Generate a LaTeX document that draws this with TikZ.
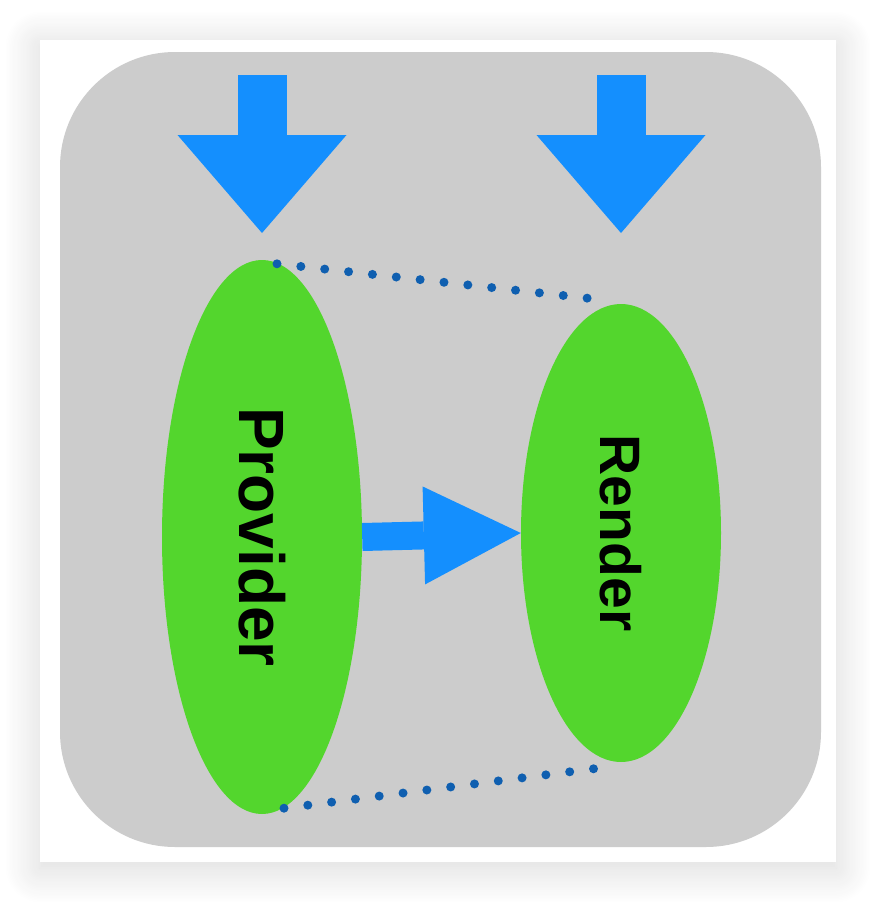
\documentclass[tikz,border=0pt]{standalone}
\usepackage{fontspec}
\setmainfont{Liberation Sans}
\usetikzlibrary{shapes,arrows.meta,shadows.blur}

\definecolor{tilegray}{HTML}{CCCCCC}
\definecolor{flowblue}{HTML}{148FFE}
\definecolor{leafgreen}{HTML}{53D62D}
\definecolor{dotblue}{HTML}{0F5FB0}

\begin{document}
\begin{tikzpicture} [
                x=1pt,
                y=-1pt,
                card/.style = {fill=white, blur shadow={shadow xshift=0pt, shadow yshift=-6pt, shadow blur radius=36pt, shadow blur steps=24, shadow opacity=16}},
                tile/.style = {fill=tilegray, rounded corners=115pt},
                part/.style = {ellipse, fill=leafgreen, inner sep=0pt, minimum width=200pt},
                inflow/.style = {draw=flowblue, line width=49pt, -{Triangle[length=98pt,width=169pt,line width=0pt,fill=flowblue]}},
                handover/.style = {draw=flowblue, line width=28pt, -{Triangle[length=97pt,width=98pt,line width=0pt,fill=flowblue]}},
                link/.style = {draw=dotblue, line width=9pt, line cap=round, dash pattern=on 0pt off 24pt}
            ]
        \useasboundingbox (0,0) rectangle (876,902);
        % First the card and the gray tile
            \path[card] (40,40) rectangle (836,862);
            \path[tile] (60,52) rectangle (821,847);
        % Then the two parts
            \node[part, minimum height=554pt, font=\fontsize{64}{64}\selectfont\bfseries] (prov) at (262,537) {\rotatebox{-90}{Provider}};
            \node[part, minimum height=458pt, font=\fontsize{57}{57}\selectfont\bfseries] (rend) at (621,533) {\rotatebox{-90}{Render}};
        % Incoming arrows on top
            \foreach \name/\ax in {prov/262, rend/621} {
                \coordinate (\name In) at (\ax,75);
                \coordinate (\name Tip) at (\ax,233);
                \path[inflow] (\name In) -- (\name Tip);
            }
        % Connect the parts
            \path[handover] (prov.east) -- (rend.west);
            \path[link] ([xshift=15pt,yshift=-4pt]prov.north) -- ([xshift=-28pt,yshift=5pt]rend.north);
            \path[link] ([xshift=22pt,yshift=6pt]prov.south) -- ([xshift=-23pt,yshift=-6pt]rend.south);
        \end{tikzpicture}
\end{document}
